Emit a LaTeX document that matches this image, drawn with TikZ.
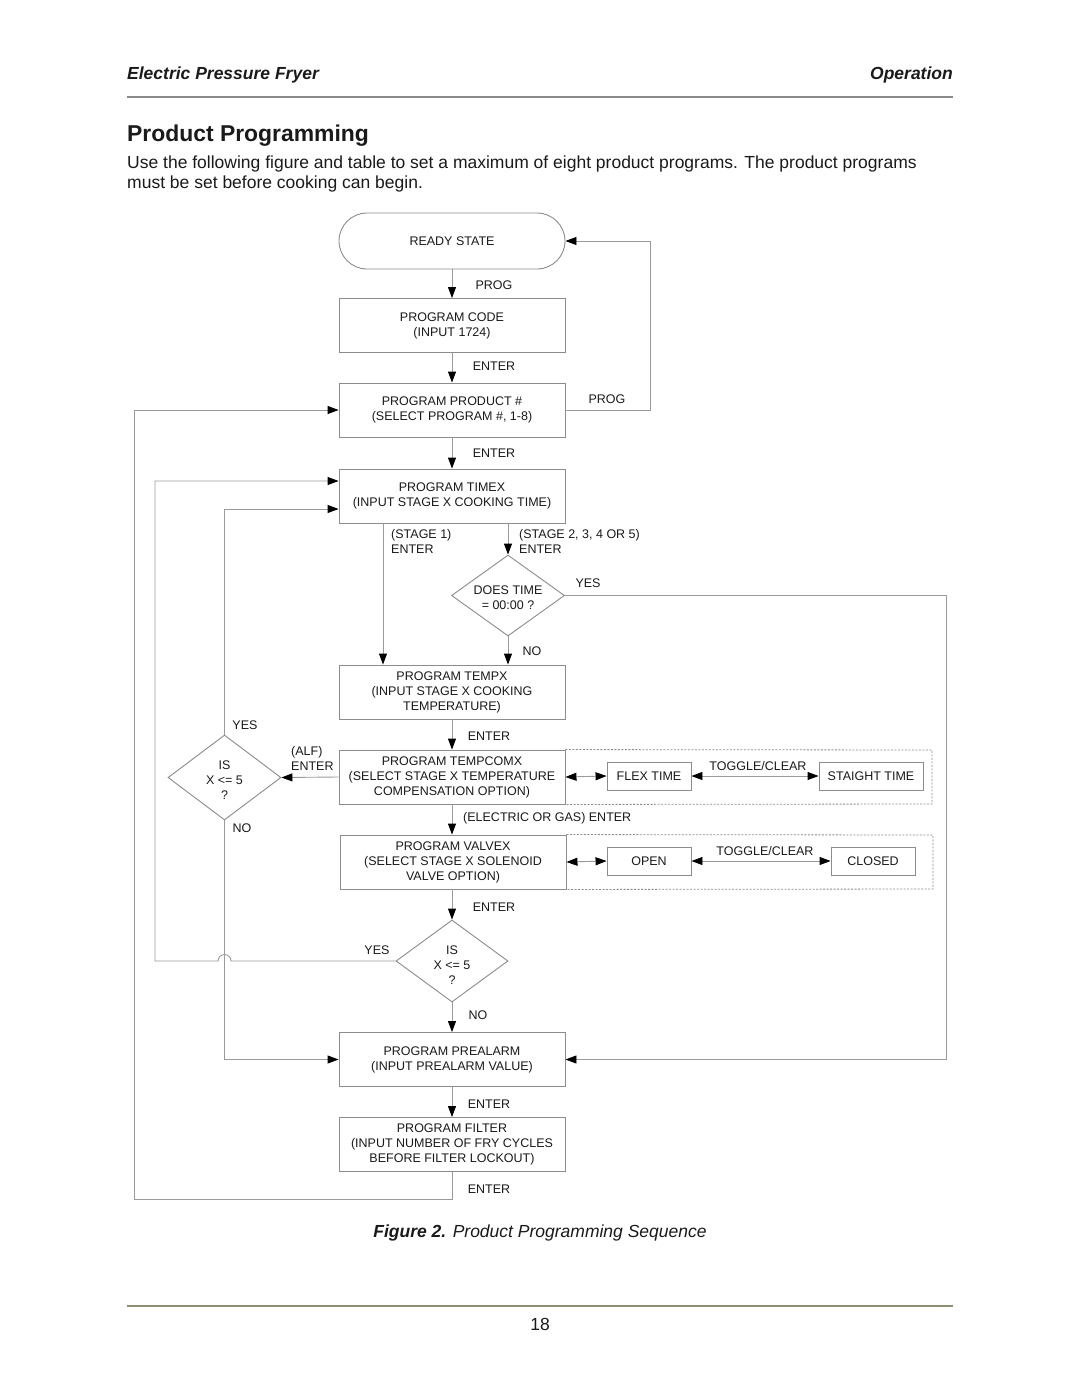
\documentclass[tikz,border=0pt]{standalone}
\usepackage{fontspec}
\setmainfont{Liberation Sans}
\usetikzlibrary{arrows.meta,shapes.geometric}
\definecolor{ln}{HTML}{9A9A9A}
\definecolor{bd}{HTML}{8C8C8C}
\definecolor{tx}{HTML}{1A1A1A}
\definecolor{rulegray}{HTML}{8A8A8A}
\definecolor{ruleolive}{HTML}{8E8E72}
\begin{document}
\begin{tikzpicture}[x=1pt,y=-1pt,
  every node/.style={text=tx, inner sep=0pt},
  ff/.style={font=\fontsize{12.5}{15}\selectfont},
  box/.style={draw=bd, line width=0.9pt, ff, align=center, minimum width=226, minimum height=54},
  sbox/.style={draw=bd, line width=0.9pt, ff, minimum height=28},
  dia/.style={draw=bd, line width=0.9pt, diamond, inner sep=0pt},
  conn/.style={draw=ln, line width=0.9pt},
  tip/.style={},
  arr/.style={conn, -{Triangle[width=8pt,length=11pt,color=black]}},
  darr/.style={conn, {Triangle[width=8pt,length=11pt,color=black]}-{Triangle[width=8pt,length=11pt,color=black]}},
  dbox/.style={draw=bd, line width=0.8pt, dash pattern=on 2pt off 1.5pt},
  body/.style={font=\fontsize{17.5}{21}\selectfont}
]
\path[use as bounding box, fill=white] (0,0) rectangle (1080,1397);

% header
\node[anchor=base west, body, font=\fontsize{17.5}{21}\selectfont\bfseries\itshape] (h1) at (127,79.3) {Electric Pressure Fryer};
\node[anchor=base east, body, font=\fontsize{17.5}{21}\selectfont\bfseries\itshape] (h2) at (953,79.3) {Operation};
\draw[rulegray, line width=2pt] (127,97) -- (953,97);
\node[anchor=base west, font=\fontsize{22.9}{27}\selectfont\bfseries] (title) at (127,141.2) {Product Programming};
\node[anchor=base west, body] (p1) at (127,168.3) {Use the following figure and table to set a maximum of eight product programs. The product programs};
\node[anchor=base west, body] (p2) at (127,188.3) {must be set before cooking can begin.};

% main boxes
\node[box, rounded corners=28pt, minimum height=56] (ready) at (452,241) {READY STATE};
\node[box] (code) at (452,325.5) {PROGRAM CODE\\(INPUT 1724)};
\node[box] (prod) at (452,410) {PROGRAM PRODUCT \#\\(SELECT PROGRAM \#, 1-8)};
\node[box] (timex) at (452,496) {PROGRAM TIMEX\\(INPUT STAGE X COOKING TIME)};
\node[dia, minimum width=113, minimum height=81] (dt) at (508,595.5) {};
\node[ff, align=center] (dtt) at (508,597.5) {DOES TIME\\= 00:00 ?};
\node[box] (tempx) at (452,692) {PROGRAM TEMPX\\(INPUT STAGE X COOKING\\TEMPERATURE)};
\node[box] (tcomp) at (452,777) {PROGRAM TEMPCOMX\\(SELECT STAGE X TEMPERATURE\\COMPENSATION OPTION)};
\node[sbox, minimum width=84] (flex) at (649,776) {FLEX TIME};
\node[sbox, minimum width=104] (straight) at (871,776) {STAIGHT TIME};
\node[box] (valve) at (453,862) {PROGRAM VALVEX\\(SELECT STAGE X SOLENOID\\VALVE OPTION)};
\node[sbox, minimum width=84] (open) at (649,861) {OPEN};
\node[sbox, minimum width=84] (closed) at (873,861) {CLOSED};
\node[dia, minimum width=113, minimum height=85] (dl) at (224.5,777.5) {};
\node[ff, align=center] (dlt) at (224.5,780.5) {IS\\X <= 5\\?};
\node[dia, minimum width=112, minimum height=82] (db) at (452,961) {};
\node[ff, align=center] (dbt) at (452,965) {IS\\X <= 5\\?};
\node[box] (pre) at (452,1059.5) {PROGRAM PREALARM\\(INPUT PREALARM VALUE)};
\node[box] (filt) at (452,1144.5) {PROGRAM FILTER\\(INPUT NUMBER OF FRY CYCLES\\BEFORE FILTER LOCKOUT)};

% dashed groups
\draw[dbox] (tcomp.north east) -- (932,750) -- (932,804) -- (tcomp.south east);
\draw[dbox] (valve.north east) -- (933,835) -- (933,889) -- (valve.south east);

% connectors
\draw[arr] (ready) -- (code);
\draw[arr] (code) -- (prod);
\draw[arr] (prod) -- (timex);
\draw[arr] (prod.east) -- (650,410) |- (ready.east);
\draw[arr] ([xshift=-69pt]timex.south) -- ([xshift=-69pt]tempx.north);
\draw[arr] ([xshift=56pt]timex.south) -- (dt.north);
\draw[arr] (dt.south) -- ([xshift=56pt]tempx.north);
\draw[arr] (dt.east) -- (946,595.5) |- (pre.east);
\draw[arr] (tempx) -- (tcomp);
\draw[arr] (tcomp.west) -- (dl.east);
\draw[arr] (dl.north) |- ([yshift=-13pt]timex.west);
\draw[arr] (dl.south) |- (pre.west);
\draw[arr] (tcomp.south) -- (tcomp.south |- valve.north);
\draw[darr] (tcomp.east) -- (flex.west);
\draw[darr] (flex) -- (straight);
\draw[darr] (valve.east) -- (open.west);
\draw[darr] (open) -- (closed);
\draw[arr] (valve.south -| db.north) -- (db.north);
\draw[arr] (db.west) -- (231,961) arc[start angle=0, end angle=-180, radius=6.5] -- (155,961) |- ([yshift=15pt]timex.west);
\draw[arr] (db.south) -- (pre.north);
\draw[arr] (pre) -- (filt);
\draw[arr] (filt.south) |- (134,1199) |- (prod.west);

% connector labels
\node[ff] (lp1) at (494,285) {PROG};
\node[ff] (le1) at (494,366) {ENTER};
\node[ff] (lp2) at (607,399) {PROG};
\node[ff] (le2) at (494,453) {ENTER};
\node[ff, anchor=west, align=left] (ls1) at (391,541) {(STAGE 1)\\ENTER};
\node[ff, anchor=west, align=left] (ls2) at (519,541) {(STAGE 2, 3, 4 OR 5)\\ENTER};
\node[ff] (ly1) at (588,583) {YES};
\node[ff] (ln1) at (532,651) {NO};
\node[ff] (le3) at (489,736) {ENTER};
\node[ff, anchor=west, align=left] (lalf) at (291,758.5) {(ALF)\\ENTER};
\node[ff] (ly2) at (245,725) {YES};
\node[ff] (ln2) at (242,828) {NO};
\node[ff, anchor=west] (leg) at (463,818) {(ELECTRIC OR GAS) ENTER};
\node[ff] (lt1) at (758,766) {TOGGLE/CLEAR};
\node[ff] (lt2) at (765,851) {TOGGLE/CLEAR};
\node[ff] (le4) at (494,907) {ENTER};
\node[ff] (ly3) at (377,950) {YES};
\node[ff] (ln3) at (478,1015) {NO};
\node[ff] (le5) at (489,1104) {ENTER};
\node[ff] (le6) at (489,1189) {ENTER};

% caption and footer
\node[anchor=base, body] (cap) at (540,1237.3) {\textbf{\textit{Figure 2.}} \textit{Product Programming Sequence}};
\draw[ruleolive, line width=2pt] (127,1306) -- (953,1306);
\node[anchor=base, body] (pg) at (540,1330.3) {18};
\end{tikzpicture}
\end{document}
